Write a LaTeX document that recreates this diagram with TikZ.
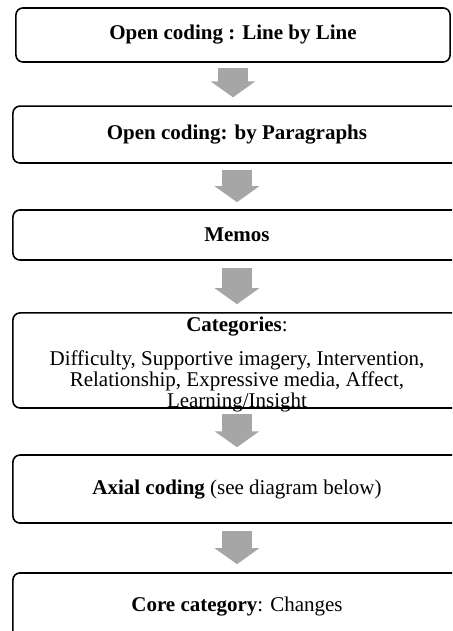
\documentclass[tikz,border=0pt]{standalone}
\usepackage{fontspec}
\setmainfont{Liberation Serif}
\usepackage{tikz}
\usetikzlibrary{arrows.meta, positioning, calc}
\definecolor{mydark}{RGB}{0,0,0}
\definecolor{arrowgray}{RGB}{166,166,166}
\tikzset{
  stage/.style={rectangle, draw=mydark, fill=white,
    minimum width=15.75cm, align=center, inner sep=0pt,
    font=\fontsize{21}{21}\selectfont, rounded corners=7pt, line width=1.6pt},
  bigarrow/.style={-{Triangle[length=16pt, width=44pt]}, line width=30pt, color=arrowgray}
}

\begin{document}
\begin{tikzpicture}
  \useasboundingbox (0,0) rectangle (15.89,-22.18);
  \clip (0,0) rectangle (15.89,-22.18);
  % Coding stages, top to bottom
  \node[stage, minimum width=15.26cm, minimum height=1.90cm] (line) at (8.19,-1.23)
    {\textbf{Open coding : Line by Line}};
  \node[stage, minimum height=2.00cm] (para) at (8.33,-4.73)
    {\textbf{Open coding: by Paragraphs}};
  \node[stage, minimum height=1.76cm] (memos) at (8.33,-8.26)
    {\textbf{Memos}};
  \node[stage, minimum height=3.34cm, text height=94pt, text depth=-7pt] (cats) at (8.33,-12.67)
    {\textbf{Categories}:\\[13pt]
     Difficulty, Supportive imagery, Intervention,\\
     Relationship, Expressive media, Affect,\\
     Learning/Insight};
  \node[stage, minimum height=2.39cm] (axial) at (8.33,-17.19)
    {\textbf{Axial coding} (see diagram below)};
  \node[stage, minimum height=2.36cm] (core) at (8.33,-21.32)
    {\textbf{Core category}: Changes};
  % Block arrows between stages
  \draw[bigarrow] ([yshift=-5pt]line.south) -- ([yshift=8pt]line.south |- para.north);
  \draw[bigarrow] ([yshift=-6pt]para.south) -- ([yshift=7pt]memos.north);
  \draw[bigarrow] ([yshift=-7pt]memos.south) -- ([yshift=8pt]cats.north);
  \draw[bigarrow] ([yshift=-5pt]cats.south) -- ([yshift=7pt]axial.north);
  \draw[bigarrow] ([yshift=-7pt]axial.south) -- ([yshift=8pt]core.north);
\end{tikzpicture}
\end{document}
